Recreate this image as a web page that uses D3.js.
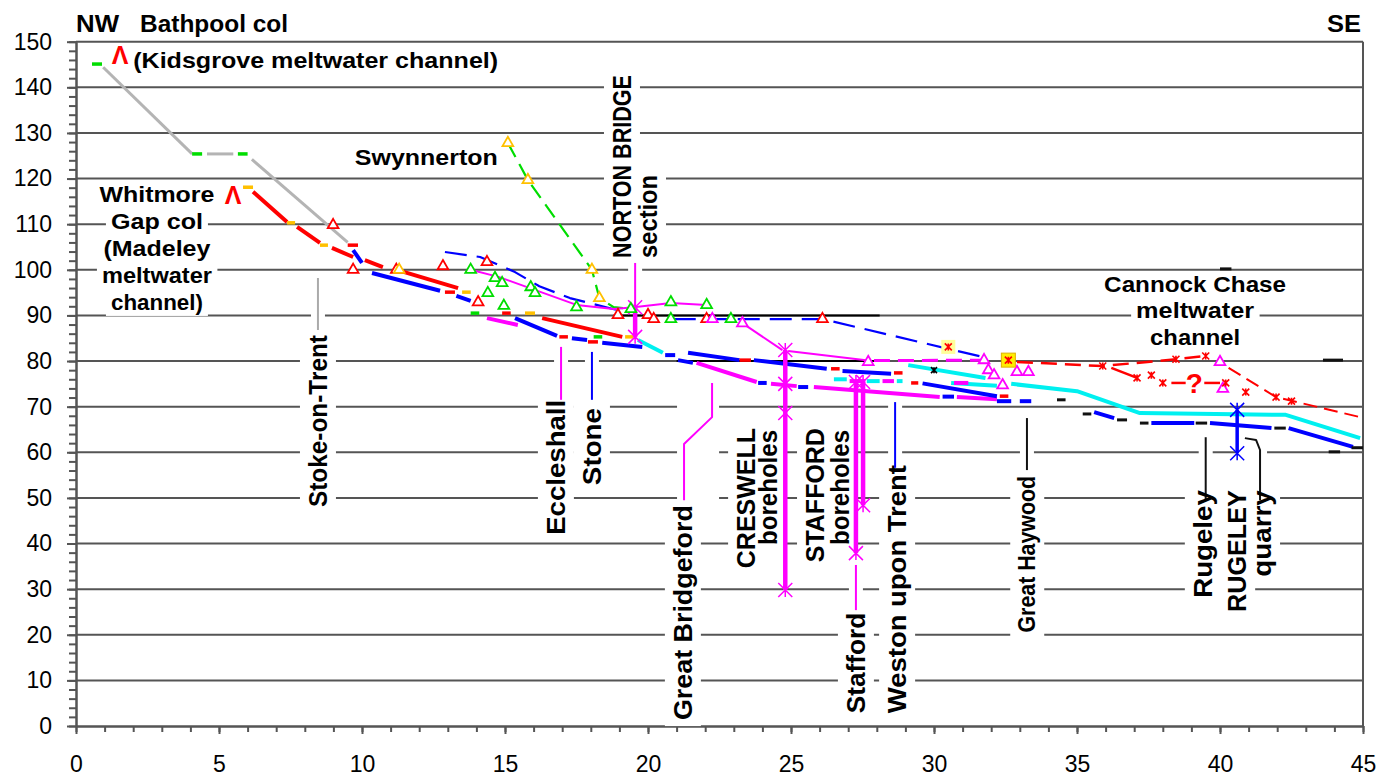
<!DOCTYPE html>
<html><head><meta charset="utf-8">
<script src="https://cdn.jsdelivr.net/npm/d3@7"></script>
<style>
body{margin:0;background:#fff}
svg{display:block}
text{font-family:"Liberation Sans",Arial,Helvetica,sans-serif}
</style>
</head><body>
<svg id="c" width="1380" height="778"></svg>
<script>
// ---------------- DATA ----------------
const xTicks = [0,5,10,15,20,25,30,35,40,45];
const yTicks = [0,10,20,30,40,50,60,70,80,90,100,110,120,130,140,150];

// Bathpool col profile (grey)
const grayLines = [
  [[0.95,144.4],[4.06,125.4]],
  [[4.58,125.4],[5.5,125.4]],
  [[6.15,124.2],[9.5,106.0]]
];
const greenShort = [
  [[0.56,145.1],[0.91,145.1]], [[4.06,125.4],[4.41,125.4]], [[5.66,125.4],[6.0,125.4]],
  [[13.8,90.5],[14.1,90.5]], [[18.1,85.3],[18.4,85.3]]
];
const orangeShort = [
  [[5.84,118.1],[6.19,118.1]], [[7.38,110.3],[7.66,110.3]], [[8.53,105.4],[8.81,105.4]],
  [[13.5,95.1],[13.8,95.1]], [[15.7,90.5],[16.05,90.5]], [[19.2,85.3],[19.5,85.3]]
];
const redThick = [
  [[6.19,117.1],[7.38,110.5]], [[7.73,109.4],[8.53,105.9]], [[8.95,104.8],[9.69,102.8]],
  [[10.1,102.1],[10.73,100.6]], [[11.22,100],[13.36,96]], [[16.3,89.4],[19.1,85.3]]
];
const redShort = [
  [[9.5,105.4],[9.86,105.4]], [[12.9,95.1],[13.25,95.1]], [[14.9,90.5],[15.2,90.5]],
  [[16.9,85.3],[17.2,85.3]], [[17.9,84.2],[18.25,84.2]], [[23.2,80.2],[23.6,80.2]],
  [[26.4,78.3],[26.7,78.3]], [[28.6,77.4],[28.9,77.4]], [[29.2,75.2],[29.45,75.2]],
  [[32.3,72.3],[32.6,72.3]]
];
const blueThick = [
  [[9.69,104.3],[10.0,101.5]], [[10.35,99.3],[12.73,95.4]], [[13.3,94.3],[13.8,93.2]],
  [[15.35,89.4],[16.82,85.5]], [[17.34,85.0],[17.87,84.6]], [[18.4,84.0],[19.8,83.1]],
  [[20.6,81.3],[20.95,81.3]], [[21.05,80.2],[21.57,79.6]], [[21.4,81.8],[23.2,80.2]],
  [[23.7,80.2],[26.25,78.3]], [[26.8,77.8],[28.5,77.2]], [[29.6,75.1],[32.2,72.3]],
  [[23.85,75.2],[24.15,75.2]], [[25.25,74.3],[25.6,74.3]], [[30.3,72.2],[30.7,72.2]],
  [[32.2,71.2],[32.7,71.2]], [[33.0,71.2],[33.4,71.2]],
  [[35.6,68.8],[36.3,67.5]], [[37.6,66.4],[39.1,66.4]], [[39.65,66.4],[41.8,65.3]],
  [[42.4,65.3],[44.65,61.2]]
];
const blackShort = [
  [[34.3,71.5],[34.6,71.5]], [[35.2,68.4],[35.5,68.4]], [[36.4,67.1],[36.75,67.1]],
  [[37.2,66.4],[37.5,66.4]], [[39.15,66.4],[39.55,66.4]], [[41.9,65.3],[42.3,65.3]],
  [[40.0,100.2],[40.4,100.2]], [[43.6,80.2],[44.3,80.2]], [[43.8,60.1],[44.2,60.1]],
  [[44.6,61.0],[45,61.0]]
];
const blackRef = [
  [[18.8,90],[28.1,90]], [[21,80],[28.1,80]]
];
const cyanThick = [
  [[19.65,84.6],[20.52,81.8]], [[29.1,79.1],[31.8,76.3]], [[26.5,76.0],[26.95,76.0]],
  [[27.65,75.6],[28.1,75.6]], [[28.7,75.6],[28.9,75.6]], [[30.6,75.2],[32.2,74.6]],
  [[32.7,75.0],[35.0,73.4],[37.2,68.6],[42.3,68.2],[44.9,63.1]]
];
const magentaThick = [
  [[14.37,89.4],[15.45,87.9]], [[21.7,79.6],[23.8,75.4]], [[24.3,75.0],[25.2,74.5]],
  [[25.8,74.3],[30.2,72.1]], [[30.8,72.1],[32.2,71.6]], [[27.05,75.6],[27.6,75.6]],
  [[28.2,75.6],[28.6,75.6]], [[30.7,75.2],[31.2,75.2]]
];
const magentaThin = [
  [[13.8,100],[14.8,98.4],[17.5,92.3],[18.8,91.4],[19.5,91.8],[20.8,92.7],[22.05,92.3]],
  [[23.3,88.3],[24.7,82.4]],
  [[24.9,82.2],[27.7,80.1]]
];
const magentaDashed = [ [[27.9,80.1],[31.75,80.2]] ];
const blueLongDash = [
  [[12.9,103.9],[14.13,102.8],[15.35,99.5],[16.2,96.4],[17.27,93.8],[18.9,91.2]],
  [[20.9,89.2],[26.1,89.2],[31.7,80.9]]
];
const swynnertonLine = [ [[15.1,127.8],[15.8,119.7],[18.04,100],[18.3,93.8],[18.8,91.8],[19.4,91.4]] ];
const cannockUpper = [ [[32.9,79.8],[35.9,78.9],[38.46,80.4],[39.5,81.1]] ];
const cannockLower = [ [[40.3,78.5],[41.96,72.1],[44.9,67.7]] ];
const cannockQuery = [ [[36.2,78.5],[37.1,76.3]], [[38.3,75.2],[38.8,75.2]], [[39.45,75.2],[40.0,75.2]] ];

// boreholes / sections: x, top, bottom, star depths
const magentaBoreholes = [
  {x:19.55, top:91.8, bottom:85.3, stars:[91.8,85.3]},
  {x:24.8,  top:82.4, bottom:29.8, stars:[82.4,75.0,68.6,29.8]},
  {x:27.27, top:75.4, bottom:37.9, stars:[75.4,37.9]},
  {x:27.52, top:75.4, bottom:48.4, stars:[75.4,48.4]}
];
const blueBoreholes = [ {x:40.6, top:69.3, bottom:59.8, stars:[69.3,59.8]} ];

// markers
const redTriangles = [[8.99,109.8],[9.69,100],[11.2,100],[12.83,100.8],[14.37,101.7],[14.06,92.9],
  [18.95,90.1],[20.0,90.1],[20.2,89.2],[22.05,89.2],[26.1,89.2]];
const orangeTriangles = [[15.1,127.8],[15.8,119.7],[18.04,100],[18.3,93.8],[11.3,100]];
const greenTriangles = [[13.8,100],[14.65,98.2],[14.9,97.1],[14.4,94.9],[15.9,96.2],[16.05,94.9],
  [14.96,92.1],[17.5,91.8],[19.4,91.4],[20.8,92.9],[22.05,92.3],[20.8,89.2],[22.9,89.2]];
const magentaTriangles = [[22.25,89.2],[23.3,88.3],[27.7,79.8],[31.75,80.2],[31.9,78],[32.1,76.9],
  [32.4,74.7],[32.9,77.6],[33.3,77.6],[40.0,79.8],[40.1,73.9]];
const redStars = [[35.9,78.9],[38.46,80.4],[39.5,81.1],[40.9,73.2],[41.96,72.1],[42.5,71.2],
  [37.1,76.3],[37.6,76.9],[38.0,75.2],[40.2,75.2]];
const paleHighlightStars = [[30.5,83.1]];
const brightHighlightStars = [[32.6,80.2]];
const blackStars = [[30.0,78.0]];

// leader lines of the place labels
const grayLeaders = [ [[8.46,98.2],[8.46,86.8]] ];
const magentaLeaders = [
  [[16.96,83.1],[16.96,71.5]],
  [[19.55,101.5],[19.55,91.8]],
  [[22.24,75.2],[22.24,67.7],[21.26,61.8],[21.26,49.5]],
  [[27.27,35.3],[27.27,25.4]]
];
const blueLeaders = [ [[18.04,82.0],[18.04,71.5]], [[28.64,71.0],[28.64,56.6]] ];
const blackLeaders = [
  [[33.25,67.5],[33.25,56.1]],
  [[39.5,63.3],[39.5,49.5]],
  [[40.87,63.1],[41.26,62.7],[41.4,60.5],[41.4,49.5]]
];

// labels
const hLabels = [
  {t:"NW", x:0, y:152.1, a:"start", len:43, fs:23},
  {t:"Bathpool col", x:2.24, y:152.1, a:"start", len:148, fs:23},
  {t:"SE", x:44.93, y:152.1, a:"end", len:34, fs:23},
  {t:"(Kidsgrove meltwater channel)", x:2.0, y:144.2, a:"start", len:365},
  {t:"Swynnerton", x:12.25, y:123.0, a:"middle", len:143, bg:true},
  {t:"Whitmore", x:2.83, y:114.9, a:"middle", len:115, bg:true},
  {t:"Gap col", x:2.83, y:108.9, a:"middle", len:92, bg:true},
  {t:"(Madeley", x:2.83, y:103.0, a:"middle", len:107, bg:true},
  {t:"meltwater", x:2.83, y:97.1, a:"middle", len:110, bg:true},
  {t:"channel)", x:2.83, y:91.2, a:"middle", len:92, bg:true},
  {t:"Cannock Chase", x:39.13, y:95.1, a:"middle", len:182, bg:true},
  {t:"meltwater", x:39.13, y:89.4, a:"middle", len:118, bg:true},
  {t:"channel", x:39.13, y:83.5, a:"middle", len:90, bg:true}
];
const vLabels = [
  {t:"Stoke-on-Trent", x:8.46, top:85.7, bottom:48.0},
  {t:"Eccleshall", x:16.78, top:71.5, bottom:41.9},
  {t:"Stone", x:18.04, top:69.7, bottom:52.8},
  {t:"NORTON BRIDGE", x:19.09, top:142.7, bottom:102.6},
  {t:"section", x:20.0, top:120.8, bottom:102.6},
  {t:"Great Bridgeford", x:21.22, top:48.4, bottom:1.3},
  {t:"CRESWELL", x:23.43, top:65.3, bottom:34.6},
  {t:"boreholes", x:24.2, top:64.9, bottom:39.7},
  {t:"STAFFORD", x:25.84, top:65.3, bottom:35.9},
  {t:"boreholes", x:26.71, top:64.9, bottom:39.7},
  {t:"Stafford", x:27.27, top:24.8, bottom:2.8},
  {t:"Weston upon Trent", x:28.71, top:57.2, bottom:2.8},
  {t:"Great Haywood", x:33.25, top:54.8, bottom:20.5, fs:23},
  {t:"Rugeley", x:39.4, top:51.7, bottom:28.1},
  {t:"RUGELEY", x:40.6, top:51.7, bottom:25.0},
  {t:"quarry", x:41.47, top:51.7, bottom:32.7}
];
const redSymbols = [
  {t:"\u039B", x:1.54, y:145.1},
  {t:"\u039B", x:5.49, y:114.4},
  {t:"?", x:39.1, y:73.0}
];

// ---------------- CHART ----------------
const svg = d3.select("#c");
const x = d3.scaleLinear().domain([0,45]).range([76,1363]);
const y = d3.scaleLinear().domain([0,150]).range([726,41.7]);
const line = d3.line().x(d=>x(d[0])).y(d=>y(d[1]));

const gGrid = svg.append("g");
const gBg = svg.append("g");
const gData = svg.append("g");
const gMark = svg.append("g");
const gText = svg.append("g");

const GRID = "#555";
gGrid.selectAll("line.grid").data(yTicks.filter(v=>v>0)).join("line")
  .attr("x1",x(0)).attr("x2",x(45)).attr("y1",d=>y(d)).attr("y2",d=>y(d))
  .attr("stroke",GRID).attr("stroke-width",2);
gGrid.append("line").attr("x1",x(45)).attr("x2",x(45)).attr("y1",y(0)).attr("y2",y(150))
  .attr("stroke",GRID).attr("stroke-width",2);

function styleAxis(g){
  g.selectAll(".domain").attr("stroke",GRID).attr("stroke-width",2);
  g.selectAll(".tick line").attr("stroke",GRID).attr("stroke-width",2);
  g.selectAll("text").attr("font-size",23).attr("fill","#000")
    .attr("font-family","'Liberation Sans',Arial,sans-serif");
}
gGrid.append("g").attr("transform",`translate(${x(0)},0)`)
  .call(d3.axisLeft(y).tickValues(d3.range(0,151,2)).tickSize(7).tickSizeOuter(0).tickFormat(""))
  .call(styleAxis);
gGrid.append("g").attr("transform",`translate(${x(0)},0)`)
  .call(d3.axisLeft(y).tickValues(yTicks).tickSize(9).tickPadding(15).tickSizeOuter(0).tickFormat(d3.format("d")))
  .call(styleAxis);
gGrid.append("g").attr("transform",`translate(0,${y(0)})`)
  .call(d3.axisBottom(x).tickValues(d3.range(0,46,1)).tickSize(6).tickSizeOuter(0).tickFormat(""))
  .call(styleAxis);
gGrid.append("g").attr("transform",`translate(0,${y(0)})`)
  .call(d3.axisBottom(x).tickValues(xTicks).tickSize(8).tickPadding(22).tickSizeOuter(0).tickFormat(d3.format("d")))
  .call(styleAxis);

// ----- lines
function drawLines(data, color, width, dash, g=gData){
  g.append("g").selectAll("path").data(data).join("path")
    .attr("d",line).attr("fill","none").attr("stroke",color).attr("stroke-width",width)
    .attr("stroke-dasharray",dash||null).attr("stroke-linecap","butt").attr("stroke-linejoin","round");
}
const RED="#ff0000", BLUE="#0000ff", GREEN="#00dd00", ORANGE="#ffc000", MAG="#ff00ff", CYAN="#00f0f0";

drawLines(blackRef, "#000", 2);
drawLines(grayLines, "#b4b4b4", 3);
drawLines(blueLongDash, BLUE, 2.2, "22 10");
drawLines(swynnertonLine, GREEN, 2.2, "16 8");
drawLines(magentaThin, MAG, 2);
drawLines(magentaDashed, MAG, 3, "16 8");
drawLines(cannockUpper, RED, 2.5, "16 8");
drawLines(cannockLower, RED, 2, "14 7");
drawLines(cannockQuery, RED, 2.5);
drawLines(cyanThick, CYAN, 4);
drawLines(magentaThick, MAG, 4);
drawLines(blueThick, BLUE, 4);
drawLines(redThick, RED, 4);
drawLines(redShort, RED, 3.5);
drawLines(greenShort, GREEN, 3.5);
drawLines(orangeShort, ORANGE, 3.5);
drawLines(blackShort, "#111", 3);

// leaders
drawLines(grayLeaders, "#aaa", 2);
drawLines(magentaLeaders, MAG, 2);
drawLines(blueLeaders, BLUE, 2);
drawLines(blackLeaders, "#111", 2);

// boreholes
function starPath(r){ return `M${-r},${-r}L${r},${r}M${-r},${r}L${r},${-r}M0,${-r}L0,${r}`; }
function drawBoreholes(data, color, width){
  const g = gData.append("g");
  g.selectAll("line").data(data).join("line")
    .attr("x1",d=>x(d.x)).attr("x2",d=>x(d.x)).attr("y1",d=>y(d.top)).attr("y2",d=>y(d.bottom))
    .attr("stroke",color).attr("stroke-width",width);
  g.selectAll("path").data(data.flatMap(d=>d.stars.map(s=>[d.x,s]))).join("path")
    .attr("transform",d=>`translate(${x(d[0])},${y(d[1])})`)
    .attr("d",starPath(7)).attr("stroke",color).attr("stroke-width",1.5).attr("fill","none");
}
drawBoreholes(magentaBoreholes, MAG, 4.5);
drawBoreholes(blueBoreholes, BLUE, 3.5);

// markers
const tri = d3.symbol().type(d3.symbolTriangle).size(50);
function drawTriangles(data, color){
  gMark.append("g").selectAll("path").data(data).join("path")
    .attr("transform",d=>`translate(${x(d[0])},${y(d[1])})`).attr("d",tri)
    .attr("fill","#fff").attr("stroke",color).attr("stroke-width",1.8);
}
drawTriangles(redTriangles, RED);
drawTriangles(orangeTriangles, ORANGE);
drawTriangles(greenTriangles, GREEN);
drawTriangles(magentaTriangles, MAG);

function drawHighlight(data, fill, stroke){
  gMark.append("g").selectAll("rect").data(data).join("rect")
    .attr("x",d=>x(d[0])-7).attr("y",d=>y(d[1])-7).attr("width",14).attr("height",14)
    .attr("fill",fill).attr("stroke",stroke).attr("stroke-width",1);
}
drawHighlight(paleHighlightStars, "#ffff99", "none");
drawHighlight(brightHighlightStars, "#ffee00", "#e0b000");
function drawStars(data, color, r){
  gMark.append("g").selectAll("path").data(data).join("path")
    .attr("transform",d=>`translate(${x(d[0])},${y(d[1])})`).attr("d",starPath(r))
    .attr("stroke",color).attr("stroke-width",1.6).attr("fill","none");
}
drawStars(redStars, RED, 3.5);
drawStars(paleHighlightStars, RED, 3.5);
drawStars(brightHighlightStars, RED, 3.5);
drawStars(blackStars, "#000", 3);

// ----- texts with white boxes
function addBg(node, transform, padX, padY){
  const b = node.getBBox();
  gBg.append("rect").attr("transform",transform||null)
    .attr("x",b.x-padX).attr("y",b.y-padY).attr("width",b.width+2*padX).attr("height",b.height+2*padY)
    .attr("fill","#fff");
}
hLabels.forEach(d=>{
  const t = gText.append("text").attr("x",x(d.x)).attr("y",y(d.y)).attr("text-anchor",d.a)
    .attr("font-size",d.fs||22).attr("font-weight","bold").attr("fill","#000").text(d.t);
  if(d.len) t.attr("textLength",d.len).attr("lengthAdjust","spacingAndGlyphs");
  if(d.bg) addBg(t.node(), null, 5, 1);
});
vLabels.forEach(d=>{
  const tr = `translate(${x(d.x)},${y(d.bottom)}) rotate(-90)`;
  const t = gText.append("text").attr("transform",tr).attr("dy","0.36em").attr("text-anchor","start")
    .attr("font-size",d.fs||25).attr("font-weight","bold").attr("fill","#000")
    .attr("textLength", y(d.bottom)-y(d.top)).attr("lengthAdjust","spacingAndGlyphs").text(d.t);
  addBg(t.node(), tr, 6, 4);
});
// boxes behind leader lines
[...grayLeaders, ...magentaLeaders, ...blueLeaders, ...blackLeaders].forEach(pts=>{
  const xs = pts.map(p=>x(p[0])), ys = pts.map(p=>y(p[1]));
  const x0 = d3.min(xs)-7, x1 = d3.max(xs)+7, y0 = d3.min(ys), y1 = d3.max(ys);
  gBg.append("rect").attr("x",x0).attr("y",y0).attr("width",x1-x0).attr("height",y1-y0).attr("fill","#fff");
});
redSymbols.forEach(d=>{
  gText.append("text").attr("x",x(d.x)).attr("y",y(d.y)).attr("text-anchor","middle")
    .attr("font-size",d.t==="?"?28:25).attr("font-weight","bold").attr("fill",RED).text(d.t);
});
</script>
</body></html>
